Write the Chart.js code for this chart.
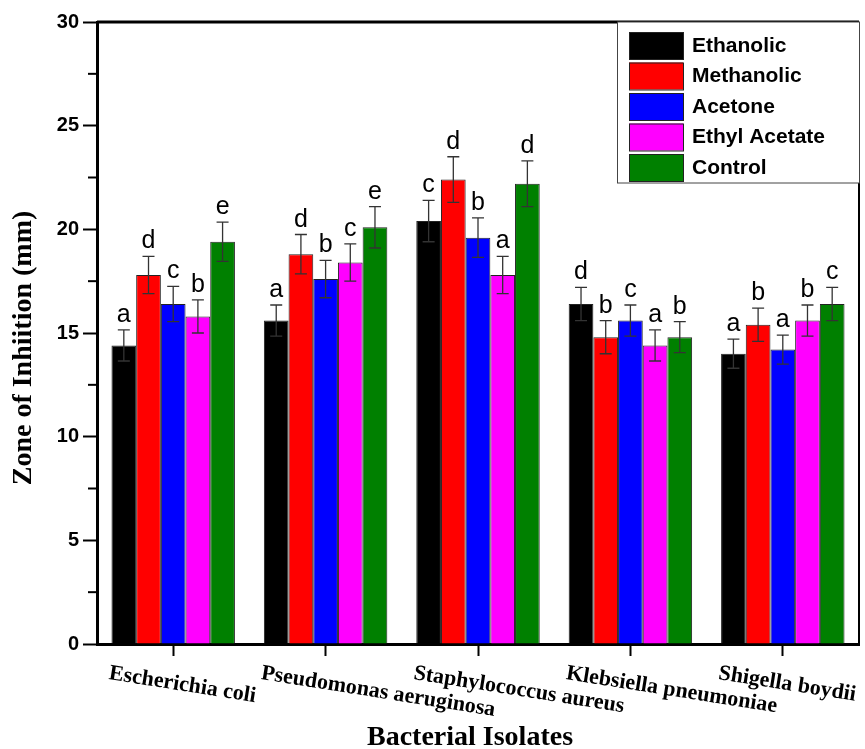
<!DOCTYPE html>
<html>
<head>
<meta charset="utf-8">
<script src="https://cdn.jsdelivr.net/npm/chart.js@4.4.1/dist/chart.umd.min.js"></script>
<style>
  html, body { margin: 0; padding: 0; background: #fff; }
  canvas { display: block; }
</style>
</head>
<body>
<canvas id="zoneChart" width="865" height="749"></canvas>
<script>
const categories = ['Escherichia coli', 'Pseudomonas aeruginosa', 'Staphylococcus aureus', 'Klebsiella pneumoniae', 'Shigella boydii'];
const seriesNames = ['Ethanolic', 'Methanolic', 'Acetone', 'Ethyl Acetate', 'Control'];
const seriesColors = ['#000000', '#ff0000', '#0000ff', '#ff00ff', '#008000'];

const ethanolic = [14.4, 15.6, 20.4, 16.4, 14.0];
const methanolic = [17.8, 18.8, 22.4, 14.8, 15.4];
const acetone = [16.4, 17.6, 19.6, 15.6, 14.2];
const ethylAcetate = [15.8, 18.4, 17.8, 14.4, 15.6];
const control = [19.4, 20.1, 22.2, 14.8, 16.4];

const ethanolicErr = [0.75, 0.75, 1.0, 0.8, 0.7];
const methanolicErr = [0.9, 0.95, 1.1, 0.8, 0.8];
const acetoneErr = [0.85, 0.9, 0.95, 0.75, 0.7];
const ethylAcetateErr = [0.8, 0.9, 0.9, 0.75, 0.75];
const controlErr = [0.95, 1.0, 1.1, 0.75, 0.8];

const ethanolicSig = ['a', 'a', 'c', 'd', 'a'];
const methanolicSig = ['d', 'd', 'd', 'b', 'b'];
const acetoneSig = ['c', 'b', 'b', 'c', 'a'];
const ethylAcetateSig = ['b', 'c', 'a', 'a', 'b'];
const controlSig = ['e', 'e', 'd', 'b', 'c'];

const yTickValues = [0, 5, 10, 15, 20, 25, 30];
const yTitle = 'Zone of Inhiition (mm)';
const xTitle = 'Bacterial Isolates';

const values = [ethanolic, methanolic, acetone, ethylAcetate, control];
const errors = [ethanolicErr, methanolicErr, acetoneErr, ethylAcetateErr, controlErr];
const sigs = [ethanolicSig, methanolicSig, acetoneSig, ethylAcetateSig, controlSig];

const SANS = '"Liberation Sans", Arial, sans-serif';
const SERIF = '"Liberation Serif", "Times New Roman", serif';

const extras = {
    id: 'extras',
    afterDatasetsDraw(chart) {
        const ctx = chart.ctx;
        const y = chart.scales.y;
        ctx.save();
        chart.data.datasets.forEach((ds, i) => {
            chart.getDatasetMeta(i).data.forEach((bar, j) => {
                const v = ds.data[j];
                const e = ds.errors[j];
                const top = y.getPixelForValue(v + e);
                const bot = y.getPixelForValue(v - e);
                ctx.strokeStyle = '#333';
                ctx.lineWidth = 1.3;
                ctx.beginPath();
                ctx.moveTo(bar.x, top);
                ctx.lineTo(bar.x, bot);
                ctx.moveTo(bar.x - 6, top);
                ctx.lineTo(bar.x + 6, top);
                ctx.moveTo(bar.x - 6, bot);
                ctx.lineTo(bar.x + 6, bot);
                ctx.stroke();

                ctx.fillStyle = '#000';
                ctx.font = '25px ' + SANS;
                ctx.textAlign = 'center';
                ctx.textBaseline = 'alphabetic';
                ctx.fillText(ds.sig[j], bar.x, top - 8);
            });
        });
        ctx.restore();
    },
    afterDraw(chart) {
        const ctx = chart.ctx;
        const area = chart.chartArea;
        const x = chart.scales.x;
        const y = chart.scales.y;
        ctx.save();

        // frame top and right
        ctx.strokeStyle = '#000';
        ctx.lineWidth = 3;
        ctx.beginPath();
        ctx.moveTo(area.left, area.top);
        ctx.lineTo(area.right, area.top);
        ctx.stroke();
        ctx.lineWidth = 2;
        ctx.beginPath();
        ctx.moveTo(area.right, area.top);
        ctx.lineTo(area.right, area.bottom);
        ctx.stroke();

        // minor y ticks
        ctx.lineWidth = 2;
        y.ticks.forEach((t) => {
            if (yTickValues.includes(t.value)) return;
            const py = y.getPixelForValue(t.value);
            ctx.beginPath();
            ctx.moveTo(area.left - 9, py);
            ctx.lineTo(area.left, py);
            ctx.stroke();
        });

        // slanted category labels
        ctx.fillStyle = '#000';
        ctx.font = 'bold 22px ' + SERIF;
        ctx.textAlign = 'left';
        ctx.textBaseline = 'alphabetic';
        categories.forEach((c, i) => {
            const px = x.getPixelForValue(i);
            ctx.save();
            ctx.translate(px - 65, area.bottom + 35);
            ctx.rotate(9 * Math.PI / 180);
            ctx.fillText(c, 0, 0);
            ctx.restore();
        });

        // axis titles
        ctx.font = 'bold 28px ' + SERIF;
        ctx.textAlign = 'center';
        ctx.textBaseline = 'middle';
        ctx.fillText(xTitle, (area.left + area.right) / 2 - 8, area.bottom + 94);
        ctx.save();
        ctx.translate(24, (area.top + area.bottom) / 2 + 15);
        ctx.rotate(-Math.PI / 2);
        ctx.fillText(yTitle, 0, 0);
        ctx.restore();

        // legend box
        const bw = 242, bh = 161;
        const bx = area.right - bw, by = area.top;
        ctx.fillStyle = '#fff';
        ctx.fillRect(bx, by, bw, bh);
        ctx.strokeStyle = '#444';
        ctx.lineWidth = 1;
        ctx.strokeRect(bx + 0.5, by, bw, bh);
        chart.data.datasets.forEach((ds, i) => {
            const ry = by + 10 + i * 30.5;
            ctx.fillStyle = ds.backgroundColor;
            ctx.fillRect(bx + 12, ry, 54, 27);
            ctx.strokeStyle = '#222';
            ctx.strokeRect(bx + 12.5, ry + 0.5, 54, 27);
            ctx.fillStyle = '#000';
            ctx.font = 'bold 21px ' + SANS;
            ctx.textAlign = 'left';
            ctx.textBaseline = 'middle';
            ctx.fillText(ds.label, bx + 75, ry + 14);
        });

        ctx.restore();
    }
};

const datasets = seriesNames.map((name, i) => ({
    label: name,
    data: values[i],
    errors: errors[i],
    sig: sigs[i],
    backgroundColor: seriesColors[i],
    borderColor: '#222',
    borderWidth: 1,
    categoryPercentage: 0.81,
    barPercentage: 1.0
}));

const chart = new Chart(document.getElementById('zoneChart'), {
    type: 'bar',
    data: { labels: categories, datasets },
    options: {
        responsive: false,
        animation: false,
        layout: { padding: { left: 0, top: 22, right: 6, bottom: 0 } },
        plugins: {
            legend: { display: false },
            tooltip: { enabled: false }
        },
        scales: {
            x: {
                offset: true,
                grid: {
                    display: true,
                    offset: false,
                    drawOnChartArea: false,
                    drawTicks: true,
                    tickLength: 12,
                    tickWidth: 2,
                    tickColor: '#000'
                },
                border: { display: true, color: '#000', width: 3 },
                ticks: { display: false },
                afterFit: (scale) => { scale.height = 105; }
            },
            y: {
                min: 0,
                max: 30,
                grid: {
                    display: true,
                    drawOnChartArea: false,
                    drawTicks: true,
                    tickLength: 14,
                    tickWidth: 2,
                    tickColor: (c) => (c.tick && yTickValues.includes(c.tick.value) ? '#000' : 'rgba(0,0,0,0)')
                },
                border: { display: true, color: '#000', width: 3 },
                ticks: {
                    stepSize: 2.5,
                    autoSkip: false,
                    padding: 4,
                    color: '#000',
                    font: { family: SANS, size: 20, weight: 'bold' },
                    callback: (v) => (yTickValues.includes(v) ? String(v) : '')
                },
                afterFit: (scale) => { scale.width = 97; }
            }
        }
    },
    plugins: [extras]
});
</script>
</body>
</html>
